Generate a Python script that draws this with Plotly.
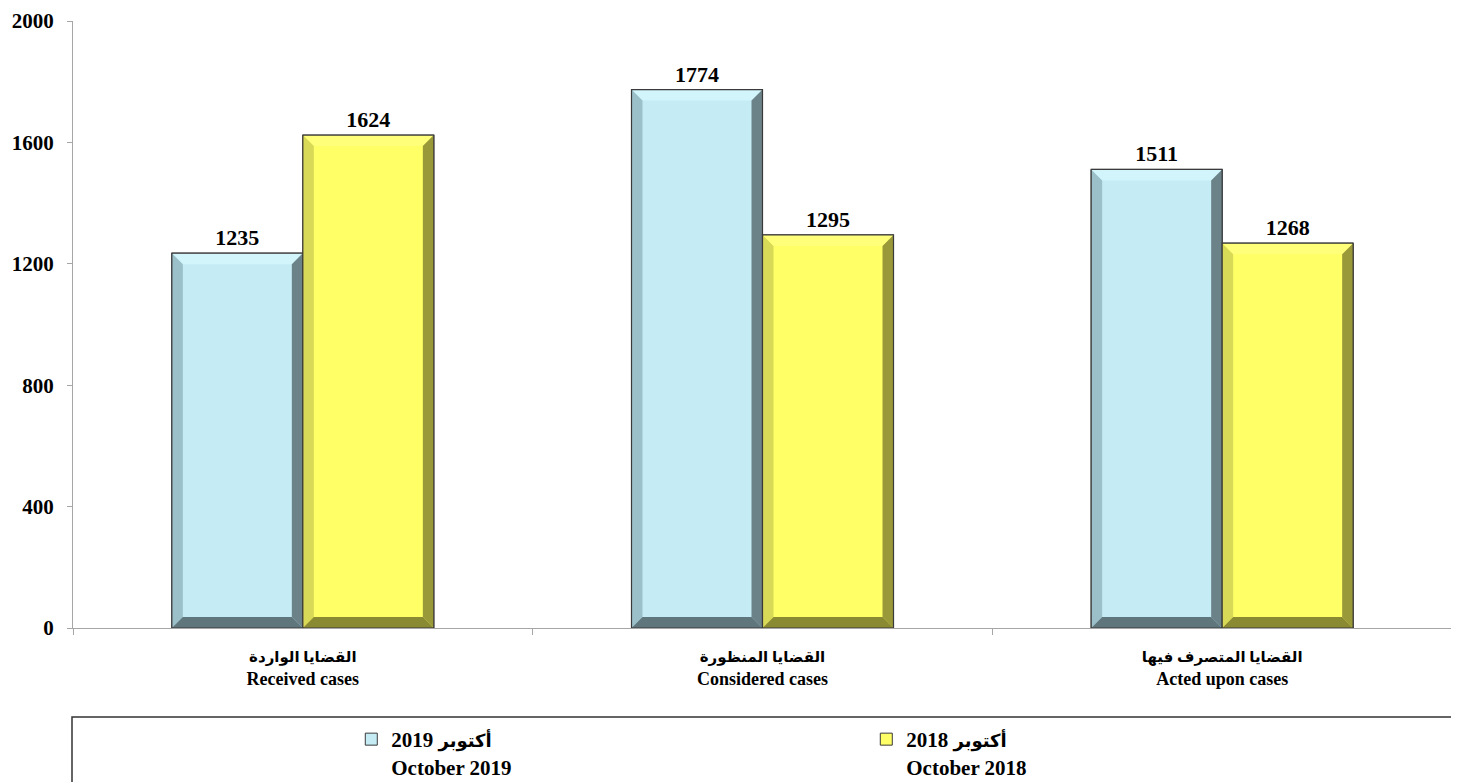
import plotly.graph_objects as go

categories_ar = ["القضايا الواردة", "القضايا المنظورة", "القضايا المتصرف فيها"]
categories_en = ["Received cases", "Considered cases", "Acted upon cases"]
oct_2019 = [1235, 1774, 1511]
oct_2018 = [1624, 1295, 1268]
series_word_ar = "أكتوبر"
series_years = ["2019", "2018"]
series_en = ["October 2019", "October 2018"]
y_ticks = [0, 400, 800, 1200, 1600, 2000]

# page body has an 8px margin, so the figure is sized to the remaining window
W, H = 1451, 774
L, R, T, B = 65, 7, 13, 154
plot_w = W - L - R
plot_h = H - T - B
x_range = [-0.5, 2.5]
y_range = [0, 2000]
px_x = plot_w / (x_range[1] - x_range[0])
px_y = plot_h / (y_range[1] - y_range[0])
bev = 11
dx = bev / px_x
dy = bev / px_y
bw = 0.285

FONT = "Liberation Serif, Times New Roman, DejaVu Sans, serif"

styles = [
    dict(face="#C5ECF5", top="#D2F5FC", left="#9CC0C9", right="#6B8288", bottom="#5E767C"),
    dict(face="#FFFF66", top="#FFFF7A", left="#D9D958", right="#99993A", bottom="#8A8A33"),
]
series = [oct_2019, oct_2018]
offsets = [-bw, 0.0]
names = [f'<span style="font-size:18px">{series_word_ar}</span> {y}<br>{e}'
         for y, e in zip(series_years, series_en)]

fig = go.Figure()

for s, vals, off, nm in zip(styles, series, offsets, names):
    fig.add_trace(go.Bar(
        x=list(range(len(vals))), y=vals, width=bw, offset=off, name=nm,
        marker=dict(color=s["face"], line=dict(color="#3A3A3A", width=1)),
        text=[str(v) for v in vals], textposition="outside",
        textfont=dict(family=FONT, size=22, color="black", weight="bold"),
        cliponaxis=False, hoverinfo="skip",
    ))

for s, vals, off in zip(styles, series, offsets):
    polys = {"top": ([], []), "left": ([], []), "right": ([], []), "bottom": ([], [])}
    ox, oy = [], []
    for i, v in enumerate(vals):
        x0 = i + off
        x1 = x0 + bw
        pts = {
            "top": [(x0, v), (x1, v), (x1 - dx, v - dy), (x0 + dx, v - dy)],
            "left": [(x0, 0), (x0, v), (x0 + dx, v - dy), (x0 + dx, dy)],
            "right": [(x1, 0), (x1, v), (x1 - dx, v - dy), (x1 - dx, dy)],
            "bottom": [(x0, 0), (x1, 0), (x1 - dx, dy), (x0 + dx, dy)],
        }
        for k, p in pts.items():
            xs, ys = polys[k]
            xs += [q[0] for q in p] + [p[0][0], None]
            ys += [q[1] for q in p] + [p[0][1], None]
        ox += [x0, x1, x1, x0, x0, None]
        oy += [0, 0, v, v, 0, None]
    for k in ["top", "left", "right", "bottom"]:
        xs, ys = polys[k]
        fig.add_trace(go.Scatter(x=xs, y=ys, fill="toself", fillcolor=s[k], mode="lines",
                                 line=dict(width=0, color=s[k]), showlegend=False, hoverinfo="skip"))
    fig.add_trace(go.Scatter(x=ox, y=oy, mode="lines", line=dict(color="#3A3A3A", width=1.2),
                             showlegend=False, hoverinfo="skip"))

leg_top_px = 91   # legend top below the x axis, in pixels
box_top_px = 89   # legend frame top below the x axis, in pixels

fig.update_layout(
    width=W, height=H,
    margin=dict(l=L, r=R, t=T, b=B, autoexpand=False),
    plot_bgcolor="white", paper_bgcolor="white",
    barmode="overlay",
    showlegend=True,
    legend=dict(orientation="h", x=0.2018, xanchor="left", y=-leg_top_px / plot_h, yanchor="top",
                font=dict(family=FONT, size=21, color="black", weight="bold"),
                entrywidth=470, entrywidthmode="pixels", valign="top",
                bgcolor="rgba(0,0,0,0)", borderwidth=0),
    xaxis=dict(range=x_range, showgrid=False, zeroline=False, showline=True,
               linecolor="#A6A6A6", linewidth=1.2, automargin=False,
               tickmode="array", tickvals=list(range(len(categories_en))),
               ticktext=[f'<span style="font-size:15px">{a}</span><br>{e}'
                         for a, e in zip(categories_ar, categories_en)],
               ticks="", ticklabelstandoff=11, ticklabeloverflow="allow",
               tickfont=dict(family=FONT, size=18, color="black", weight="bold"),
               minor=dict(tickmode="array", tickvals=[-0.5, 0.5, 1.5, 2.5], ticks="outside",
                          ticklen=6, tickcolor="#A6A6A6", tickwidth=1.2, showgrid=False)),
    yaxis=dict(range=y_range, showgrid=False, zeroline=False, showline=True,
               linecolor="#A6A6A6", linewidth=1.2, automargin=False,
               tickmode="array", tickvals=y_ticks, ticks="outside", ticklen=5,
               tickcolor="#A6A6A6", tickwidth=1.2, ticklabelstandoff=9,
               ticklabeloverflow="allow",
               tickfont=dict(family=FONT, size=21, color="black", weight="bold")),
    shapes=[dict(type="rect", xref="paper", yref="paper",
                 x0=-1 / plot_w, x1=(plot_w + 5) / plot_w,
                 y0=-box_top_px / plot_h, y1=-180 / plot_h,
                 line=dict(color="#333333", width=1.5), fillcolor="rgba(0,0,0,0)", layer="above")],
)

fig.write_html("out.html")
